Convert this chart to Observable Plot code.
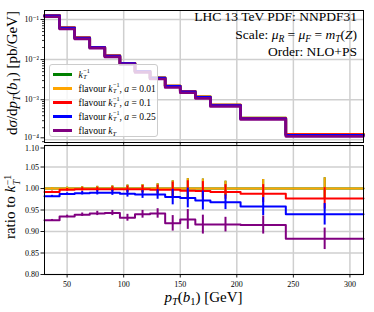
<!DOCTYPE html>
<html>
<head>
<meta charset="utf-8">
<script src="https://cdn.jsdelivr.net/npm/d3@7"></script>
<script src="https://cdn.jsdelivr.net/npm/@observablehq/plot@0.6"></script>
<style>
  html, body { margin: 0; padding: 0; background: #fff; }
  #wrap { position: relative; width: 374px; height: 312px; overflow: hidden; font-family: 'Liberation Serif', 'DejaVu Serif', serif; }
  #wrap svg { position: absolute; left: 0; overflow: visible; }
  .lab { position: absolute; white-space: nowrap; line-height: 1; color: #000; font-family: 'Liberation Serif', 'DejaVu Serif', serif; }
  .ss { display: inline-flex; flex-direction: column; font-size: 0.65em; line-height: 0.95; vertical-align: middle; margin-left: 0.5px; }
  .sb { font-size: 0.7em; vertical-align: -0.3em; line-height: 0; }
  .legend { position: absolute; background: rgba(255,255,255,0.8); border: 1px solid #cccccc; border-radius: 3px; box-sizing: border-box; }
  .lrow { position: absolute; left: 0; height: 0; }
  .lline { position: absolute; left: 3px; width: 18.5px; height: 2.5px; top: -1.25px; }
  .ltext { position: absolute; left: 28.5px; top: -6px; font-size: 9.5px; line-height: 12px; white-space: nowrap; }
</style>
</head>
<body>
<div id="wrap"></div>
<script>
// ---------------- data ----------------
const binEdges = [30, 43.33, 56.67, 70, 83.33, 96.67, 110, 123.33, 136.67, 150, 163.33, 176.67, 203.33, 243.33, 312];
// dσ/dpT for kT^-1 (pb/GeV)
const xsecKtInv = [0.126, 0.062, 0.035, 0.0203, 0.0124, 0.0081, 0.0051, 0.0035, 0.0022, 0.0016, 0.00118, 0.00074, 0.00035, 0.000138];
// ratios to kT^-1
const ratioKtInv   = [1, 1, 1, 1, 1, 1, 1, 1, 1, 1, 1, 1, 1, 1];
const ratioA001    = [1.000, 1.000, 1.000, 1.000, 1.000, 1.000, 1.000, 1.000, 1.000, 1.000, 1.000, 1.000, 1.000, 1.000];
const ratioA01     = [0.992, 0.997, 0.998, 0.998, 0.998, 0.998, 0.998, 0.997, 0.997, 0.995, 0.994, 0.992, 0.988, 0.977];
const ratioA025    = [0.982, 0.987, 0.989, 0.990, 0.990, 0.988, 0.986, 0.986, 0.980, 0.978, 0.972, 0.968, 0.958, 0.940];
const ratioFlavKt  = [0.926, 0.935, 0.939, 0.942, 0.943, 0.932, 0.940, 0.942, 0.919, 0.928, 0.916, 0.916, 0.915, 0.883];
const ratioErr     = [0.002, 0.003, 0.004, 0.005, 0.006, 0.008, 0.009, 0.011, 0.018, 0.023, 0.022, 0.017, 0.021, 0.025];

const seriesNames  = ["kT^-1", "flavour kT^-1, a=0.01", "flavour kT^-1, a=0.1", "flavour kT^-1, a=0.25", "flavour kT"];
const seriesColors = ["green", "orange", "red", "blue", "purple"];
const seriesRatios = [ratioKtInv, ratioA001, ratioA01, ratioA025, ratioFlavKt];

const xTicks = [50, 100, 150, 200, 250, 300];
const logTicks = [1e-4, 1e-3, 1e-2, 1e-1];
const ratioTicks = [0.80, 0.85, 0.90, 0.95, 1.00, 1.05, 1.10];
const annotations = ["LHC 13 TeV PDF: NNPDF31", "Scale", "Order: NLO+PS"];

// ---------------- helpers ----------------
function stepPoints(vals) {
  const pts = vals.map((v, i) => ({x: binEdges[i], y: v}));
  pts.push({x: binEdges[binEdges.length - 1], y: vals[vals.length - 1]});
  return pts;
}
const centers = binEdges.slice(0, -1).map((e, i) => (e + binEdges[i + 1]) / 2);
const supMap = {"-": "\u207B", "0": "\u2070", "1": "\u00B9", "2": "\u00B2", "3": "\u00B3", "4": "\u2074", "5": "\u2075", "6": "\u2076", "7": "\u2077", "8": "\u2078", "9": "\u2079"};
const fmtPow = d => "10" + String(Math.round(Math.log10(d))).split("").map(c => supMap[c]).join("");

const minorTicks = [];
for (const dec of [1e-5, 1e-4, 1e-3, 1e-2, 1e-1]) for (let k = 2; k <= 9; k++) {
  const v = k * dec; if (v > 8.57e-5 && v < 0.1676) minorTicks.push(v);
}

const xDomain = [30, 312];
const gridStyle = {stroke: "#cfcfcf", strokeOpacity: 1, strokeWidth: 1.5};
const commonStyle = {fontFamily: "'Liberation Serif', 'DejaVu Serif', serif", fontSize: "8px", color: "black", background: "transparent", overflow: "visible"};

// ---------------- top panel ----------------
const topMarks = [
  Plot.gridX(xTicks, gridStyle),
  Plot.gridY(logTicks, gridStyle)
];
seriesRatios.forEach((r, s) => {
  topMarks.push(Plot.line(stepPoints(xsecKtInv.map((v, i) => v * r[i])), {x: "x", y: "y", stroke: seriesColors[s], strokeWidth: 2.6, curve: "step-after"}));
});
topMarks.push(
  Plot.frame({stroke: "black", strokeWidth: 1}),
  Plot.axisY(minorTicks, {tickSize: 2, tickFormat: () => "", label: null, strokeWidth: 0.8}),
  Plot.axisY(logTicks.slice(1), {tickSize: 3.5, tickPadding: 2, tickFormat: fmtPow, label: null, strokeWidth: 0.9}),
  Plot.axisY(logTicks.slice(0, 1), {tickSize: 3.5, tickPadding: 2, tickFormat: fmtPow, label: null, strokeWidth: 0.9, dy: -2}),
  Plot.axisX(xTicks, {tickSize: 3.5, tickFormat: () => "", label: null, strokeWidth: 0.9})
);
const topPlot = Plot.plot({
  width: 374, height: 145,
  marginLeft: 44, marginRight: 11, marginTop: 10, marginBottom: 3,
  x: {domain: xDomain},
  y: {type: "log", domain: [8.57e-5, 0.1676]},
  style: commonStyle,
  marks: topMarks
});

// ---------------- ratio panel ----------------
const botMarks = [
  Plot.gridX(xTicks, gridStyle),
  Plot.gridY(ratioTicks, gridStyle)
];
seriesRatios.forEach((r, s) => {
  botMarks.push(Plot.line(stepPoints(r), {x: "x", y: "y", stroke: seriesColors[s], strokeWidth: 2, curve: "step-after"}));
  botMarks.push(Plot.ruleX(centers.map((c, i) => ({x: c, lo: r[i] - ratioErr[i], hi: r[i] + ratioErr[i]})),
    {x: "x", y1: "lo", y2: "hi", stroke: seriesColors[s], strokeWidth: 2}));
});
botMarks.push(
  Plot.frame({stroke: "black", strokeWidth: 1}),
  Plot.axisY(ratioTicks.slice(0, -1), {tickSize: 3.5, tickPadding: 2, tickFormat: d3.format(".2f"), label: null, strokeWidth: 0.9}),
  Plot.axisY(ratioTicks.slice(-1), {tickSize: 3.5, tickPadding: 2, tickFormat: d3.format(".2f"), label: null, strokeWidth: 0.9, dy: 2.5}),
  Plot.axisX(xTicks, {tickSize: 3.5, tickPadding: 3, label: null, strokeWidth: 0.9})
);
const botPlot = Plot.plot({
  width: 374, height: 168,
  marginLeft: 44, marginRight: 11, marginTop: 1, marginBottom: 38,
  x: {domain: xDomain},
  y: {domain: [0.80, 1.10]},
  style: commonStyle,
  marks: botMarks
});

const wrap = document.getElementById("wrap");
topPlot.style.top = "0px";
botPlot.style.top = "144px";
wrap.appendChild(topPlot);
wrap.appendChild(botPlot);

// ---------------- labels (HTML text) ----------------
const ktInv = '<i>k</i><span class="ss"><span>\u22121</span><span><i>T</i></span></span>';
const kt = '<i>k</i><span class="sb"><i>T</i></span>';
function addLab(html, css) {
  const d = document.createElement("div");
  d.className = "lab";
  d.innerHTML = html;
  Object.assign(d.style, css);
  wrap.appendChild(d);
  return d;
}
// annotations
addLab(annotations[0], {right: "17px", top: "10px", fontSize: "13.5px"});
addLab('Scale: <i>\u03BC</i><span class="sb"><i>R</i></span> = <i>\u03BC</i><span class="sb"><i>F</i></span> = <i>m</i><span class="sb"><i>T</i></span>(<i>Z</i>)', {right: "17px", top: "27.5px", fontSize: "13.5px"});
addLab(annotations[2], {right: "17px", top: "45px", fontSize: "13.5px"});
// axis labels
addLab('d<i>\u03C3</i>/d<i>p</i><span class="sb"><i>T</i></span>(<i>b</i><span class="sb">1</span>) [pb/GeV]',
  {left: "12px", top: "73px", fontSize: "15px", transform: "translate(-50%,-50%) rotate(-90deg)"});
addLab('ratio to ' + ktInv,
  {left: "12px", top: "207px", fontSize: "15px", transform: "translate(-50%,-50%) rotate(-90deg)"});
addLab('<i>p</i><span class="sb"><i>T</i></span>(<i>b</i><span class="sb">1</span>) [GeV]',
  {left: "203.5px", top: "297px", fontSize: "15px", transform: "translate(-50%,-50%)"});

// legend
const legendLabels = [
  ktInv,
  'flavour ' + ktInv + ', <i>a</i> = 0.01',
  'flavour ' + ktInv + ', <i>a</i> = 0.1',
  'flavour ' + ktInv + ', <i>a</i> = 0.25',
  'flavour ' + kt
];
const leg = document.createElement("div");
leg.className = "legend";
Object.assign(leg.style, {left: "49px", top: "64px", width: "108.5px", height: "73px"});
legendLabels.forEach((html, i) => {
  const row = document.createElement("div");
  row.className = "lrow";
  row.style.top = (9.5 + 14 * i) + "px";
  row.innerHTML = `<div class="lline" style="background:${seriesColors[i]}"></div><div class="ltext">${html}</div>`;
  leg.appendChild(row);
});
wrap.appendChild(leg);
</script>
</body>
</html>
